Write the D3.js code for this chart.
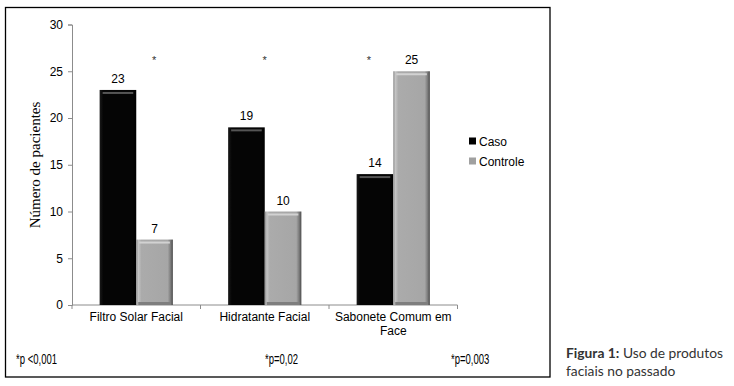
<!DOCTYPE html>
<html>
<head>
<meta charset="utf-8">
<script src="https://cdn.jsdelivr.net/npm/d3@7"></script>
<style>
  body { margin: 0; background: #fff; }
  .tick text { font-family: Arial, "Liberation Sans", sans-serif; font-size: 12px; fill: #000; }
  .pval { font-family: "Liberation Sans Narrow", "Arial Narrow", Arial, sans-serif; font-size: 14px; fill: #000; }
  .caption { font-family: Lato, "Open Sans", sans-serif; font-size: 13.8px; fill: #333; }
</style>
</head>
<body>
<div id="chart"></div>
<script>
// data
var categories = ["Filtro Solar Facial", "Hidratante Facial", "Sabonete Comum em Face"];
var series = ["Caso", "Controle"];
var caso = [23, 19, 14];
var controle = [7, 10, 25];
var yTicks = [0, 5, 10, 15, 20, 25, 30];
var starPos = [0.64, 0.5, 0.31];   // where the * sits inside each group
var pValues = ["*p <0,001", "*p=0,02", "*p=0,003"];

var W = 734, H = 386;
var margin = {top: 24.5, left: 72},
    width = 457.5 - margin.left,
    height = 305 - margin.top;

var svg = d3.select("#chart").append("svg")
    .attr("width", W).attr("height", H);

var defs = svg.append("defs");
var gGray = defs.append("linearGradient").attr("id", "gray");
gGray.append("stop").attr("offset", "0%").attr("stop-color", "#8e8e8e");
gGray.append("stop").attr("offset", "6%").attr("stop-color", "#c4c4c4");
gGray.append("stop").attr("offset", "14%").attr("stop-color", "#ababab");
gGray.append("stop").attr("offset", "86%").attr("stop-color", "#a6a6a6");
gGray.append("stop").attr("offset", "94%").attr("stop-color", "#7a7a7a");
gGray.append("stop").attr("offset", "100%").attr("stop-color", "#4a4a4a");
var gBlack = defs.append("linearGradient").attr("id", "black");
gBlack.append("stop").attr("offset", "0%").attr("stop-color", "#1a1a1a");
gBlack.append("stop").attr("offset", "10%").attr("stop-color", "#050505");
gBlack.append("stop").attr("offset", "90%").attr("stop-color", "#050505");
gBlack.append("stop").attr("offset", "100%").attr("stop-color", "#000");

// frame around the chart
svg.append("rect")
  .attr("x", 5.5).attr("y", 7.5).attr("width", 544.5).attr("height", 369.5)
  .attr("fill", "none").attr("stroke", "#000").attr("stroke-width", 1.3);

var g = svg.append("g")
  .attr("transform", "translate(" + margin.left + "," + margin.top + ")");

var x0 = d3.scaleBand().domain(categories).range([0, width]).padding(0);
var x1 = d3.scaleBand().domain(series)
  .range([x0.bandwidth() * 0.215, x0.bandwidth() * 0.785]);
var y = d3.scaleLinear().domain([0, 30]).range([height, 0]);

// y axis
var yAxis = g.append("g")
  .call(d3.axisLeft(y).tickValues(yTicks).tickSize(4).tickPadding(5));
yAxis.select(".domain").attr("stroke", "#8c8c8c");
yAxis.selectAll(".tick line").attr("stroke", "#8c8c8c");

// x axis, ticks at group boundaries
var xAxis = g.append("g").attr("transform", "translate(0," + height + ")");
xAxis.append("line").attr("x1", 0).attr("x2", width)
  .attr("stroke", "#8c8c8c");
xAxis.selectAll(".bt").data(d3.range(categories.length + 1)).enter()
  .append("line")
  .attr("x1", function(i) { return i * x0.step(); })
  .attr("x2", function(i) { return i * x0.step(); })
  .attr("y1", 0).attr("y2", 4).attr("stroke", "#8c8c8c");

var labels = xAxis.selectAll(".xl").data(categories).enter()
  .append("text")
  .attr("class", "tick")
  .attr("text-anchor", "middle")
  .attr("font-family", "Arial, 'Liberation Sans', sans-serif")
  .attr("font-size", 12)
  .attr("x", function(d) { return x0(d) + x0.bandwidth() / 2; })
  .attr("y", 16);
labels.each(function(d) {
  var t = d3.select(this);
  var lines = d === "Sabonete Comum em Face" ? ["Sabonete Comum em", "Face"] : [d];
  lines.forEach(function(l, i) {
    t.append("tspan").attr("x", x0(d) + x0.bandwidth() / 2)
      .attr("dy", i === 0 ? 0 : 13.5).text(l);
  });
});

// bars
var rows = categories.map(function(c, i) {
  return {cat: c, vals: [{s: "Caso", v: caso[i]}, {s: "Controle", v: controle[i]}]};
});
var groups = g.selectAll(".grp").data(rows).enter().append("g")
  .attr("transform", function(d) { return "translate(" + x0(d.cat) + ",0)"; });

var bars = groups.selectAll(".bar").data(function(d) { return d.vals; }).enter();
bars.append("rect")
  .attr("x", function(d) { return x1(d.s); })
  .attr("y", function(d) { return y(d.v); })
  .attr("width", x1.bandwidth())
  .attr("height", function(d) { return height - y(d.v); })
  .attr("fill", function(d) { return d.s === "Caso" ? "url(#black)" : "url(#gray)"; });
// bevel highlight on top
bars.append("rect")
  .attr("x", function(d) { return x1(d.s) + 3; })
  .attr("y", function(d) { return y(d.v) + 2; })
  .attr("width", x1.bandwidth() - 6)
  .attr("height", 2)
  .attr("fill", function(d) { return d.s === "Caso" ? "#555" : "#d2d2d2"; });
// darker foot of gray bars
bars.filter(function(d) { return d.s === "Controle"; }).append("rect")
  .attr("x", function(d) { return x1(d.s) + 2; })
  .attr("y", height - 3)
  .attr("width", x1.bandwidth() - 4)
  .attr("height", 3)
  .attr("fill", "#7e7e7e");
bars.append("text")
  .attr("x", function(d) { return x1(d.s) + x1.bandwidth() / 2; })
  .attr("y", function(d) { return y(d.v) - 7; })
  .attr("text-anchor", "middle")
  .attr("font-family", "Arial, 'Liberation Sans', sans-serif")
  .attr("font-size", 12)
  .text(function(d) { return d.v; });

// significance stars
g.selectAll(".star").data(categories).enter().append("text")
  .attr("x", function(d, i) { return x0(d) + x0.bandwidth() * starPos[i]; })
  .attr("y", 39)
  .attr("text-anchor", "middle")
  .attr("font-family", "Arial, sans-serif")
  .attr("font-size", 11)
  .attr("fill", "#333")
  .text("*");

// y label
svg.append("text")
  .attr("transform", "translate(40,165) rotate(-90)")
  .attr("text-anchor", "middle")
  .attr("font-family", "'Liberation Serif', 'Times New Roman', serif")
  .attr("font-size", 15)
  .text("Número de pacientes");

// legend
var legend = svg.append("g").attr("transform", "translate(469,141)");
series.forEach(function(s, i) {
  legend.append("rect").attr("x", 0).attr("y", i * 20 - 3.5)
    .attr("width", 7).attr("height", 7)
    .attr("fill", s === "Caso" ? "#000" : "#a0a0a0");
  legend.append("text").attr("x", 10).attr("y", i * 20 + 4.5)
    .attr("font-family", "Arial, 'Liberation Sans', sans-serif")
    .attr("font-size", 12).text(s);
});

// p values, narrow face squeezed horizontally
var pX = [16, 265, 451];
svg.selectAll(".pval").data(pValues).enter().append("text")
  .attr("class", "pval")
  .attr("transform", function(d, i) { return "translate(" + pX[i] + ",364) scale(0.68,1)"; })
  .text(function(d) { return d; });

// caption
var cap = svg.append("text").attr("class", "caption").attr("x", 566).attr("y", 358);
cap.append("tspan").attr("font-weight", "bold").text("Figura 1:");
cap.append("tspan").text(" Uso de produtos");
svg.append("text").attr("class", "caption").attr("x", 566).attr("y", 376)
  .text("faciais no passado");
</script>
</body>
</html>
